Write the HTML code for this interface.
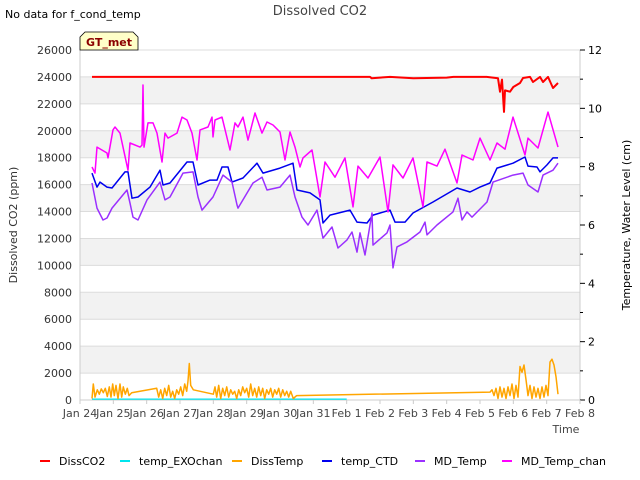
<!DOCTYPE html>
<html><head><meta charset="utf-8"><style>
body{margin:0;background:#fff;}
svg{display:block;font-family:"DejaVu Sans","Liberation Sans",sans-serif;}
</style></head><body>
<svg id="chart" width="640" height="480" viewBox="0 0 640 480" xmlns="http://www.w3.org/2000/svg">
<text x="5" y="18" font-size="11" fill="#000">No data for f_cond_temp</text>
<text x="320" y="15" font-size="13" fill="#444" text-anchor="middle">Dissolved CO2</text>
<g id="bands"></g><g id="grid"></g>
<g id="axes"></g>
<g id="series"></g>
<g>
<path d="M80,50 L80,37 L85,32 L133,32 L138,37 L138,50 Z" fill="#ffffc8" stroke="#000" stroke-width="0.8"/>
<text x="109" y="46" font-size="11" font-weight="bold" fill="#8b0000" text-anchor="middle">GT_met</text>
</g>
<text transform="translate(17,225) rotate(-90)" font-size="11" fill="#333" text-anchor="middle">Dissolved CO2 (ppm)</text>
<text transform="translate(630,225) rotate(-90)" font-size="11" fill="#000" text-anchor="middle">Temperature, Water Level (cm)</text>
<text x="566" y="433" font-size="11" fill="#444" text-anchor="middle">Time</text>
<g id="legend"></g>
</svg>
<script>
const NS="http://www.w3.org/2000/svg";
const xTicks=["Jan 24","Jan 25","Jan 26","Jan 27","Jan 28","Jan 29","Jan 30","Jan 31","Feb 1","Feb 2","Feb 3","Feb 4","Feb 5","Feb 6","Feb 7","Feb 8"];
const yTicks=[0,2000,4000,6000,8000,10000,12000,14000,16000,18000,20000,22000,24000,26000];
const y2Ticks=[0,2,4,6,8,10,12];
const co2Days=[0.36,8.7,8.75,9.0,9.3,10.0,11.0,11.2,12.2,12.54,12.6,12.66,12.72,12.75,12.9,13.0,13.2,13.29,13.5,13.59,13.8,13.89,14.04,14.19,14.34];
const co2Vals=[24000,24000,23900,23950,24000,23900,23950,24000,24000,23900,22900,23800,21400,23000,22900,23250,23550,23920,24000,23620,24000,23620,24000,23180,23550];
const exoDays=[0.36,8.0];
const exoVals=[0.03,0.03];
const dtDays=[0.36,0.40,0.45,0.52,0.58,0.64,0.70,0.76,0.82,0.88,0.93,0.98,1.03,1.08,1.14,1.20,1.25,1.30,1.36,1.42,1.47,1.55,2.30,2.36,2.42,2.48,2.54,2.60,2.66,2.72,2.78,2.84,2.90,2.96,3.02,3.08,3.14,3.20,3.24,3.28,3.32,3.40,4.00,4.05,4.10,4.16,4.22,4.28,4.34,4.40,4.46,4.52,4.58,4.64,4.70,4.76,4.82,4.88,4.94,5.00,5.06,5.12,5.18,5.24,5.30,5.36,5.42,5.48,5.54,5.60,5.66,5.72,5.78,5.84,5.90,5.96,6.02,6.08,6.14,6.20,6.26,6.32,6.40,6.50,12.30,12.36,12.42,12.48,12.54,12.60,12.66,12.72,12.78,12.84,12.90,12.96,13.02,13.08,13.14,13.20,13.26,13.32,13.38,13.44,13.50,13.56,13.62,13.68,13.74,13.80,13.86,13.92,13.98,14.04,14.10,14.16,14.22,14.28,14.34];
const dtVals=[0.05,0.55,0.10,0.35,0.20,0.38,0.25,0.40,0.12,0.45,0.10,0.55,0.15,0.50,0.05,0.55,0.10,0.45,0.20,0.40,0.15,0.25,0.40,0.10,0.35,0.05,0.40,0.15,0.50,0.10,0.30,0.05,0.35,0.20,0.45,0.15,0.55,0.30,0.65,1.25,0.50,0.35,0.20,0.45,0.10,0.50,0.05,0.40,0.15,0.45,0.10,0.35,0.20,0.30,0.05,0.35,0.15,0.45,0.25,0.40,0.10,0.55,0.15,0.40,0.10,0.45,0.15,0.40,0.05,0.35,0.20,0.40,0.10,0.35,0.20,0.40,0.10,0.35,0.15,0.30,0.10,0.30,0.05,0.15,0.27,0.35,0.15,0.40,0.05,0.45,0.10,0.40,0.05,0.45,0.15,0.55,0.05,0.50,0.10,1.15,0.95,1.20,0.70,0.15,0.50,0.05,0.45,0.10,0.40,0.05,0.45,0.10,0.50,0.15,1.30,1.40,1.20,0.80,0.20];
const ctdDays=[0.36,0.51,0.60,0.81,0.96,1.35,1.44,1.56,1.74,2.10,2.40,2.49,2.70,3.21,3.39,3.54,3.90,4.11,4.26,4.44,4.56,4.89,5.31,5.49,6.00,6.39,6.51,6.90,7.20,7.29,7.50,8.10,8.31,8.61,8.79,9.30,9.45,9.75,9.99,10.59,11.31,11.70,12.00,12.30,12.51,12.99,13.35,13.44,13.71,13.80,14.01,14.19,14.34];
const ctdVals=[7.78,7.30,7.47,7.30,7.27,7.82,7.82,6.92,6.96,7.30,7.88,7.37,7.44,8.16,8.16,7.37,7.54,7.54,7.99,7.99,7.47,7.61,8.12,7.78,7.95,8.12,7.20,7.10,6.86,6.07,6.34,6.51,6.10,6.07,6.34,6.51,6.10,6.10,6.41,6.79,7.27,7.13,7.30,7.44,7.95,8.12,8.33,8.02,7.99,7.82,8.06,8.30,8.30];
const mdDays=[0.36,0.51,0.69,0.81,0.96,1.41,1.50,1.59,1.74,2.01,2.40,2.55,2.70,3.09,3.39,3.54,3.66,3.99,4.29,4.56,4.71,4.74,5.19,5.46,5.61,6.00,6.30,6.45,6.66,6.84,7.11,7.29,7.56,7.74,8.01,8.16,8.31,8.40,8.55,8.76,8.79,9.21,9.30,9.39,9.51,9.81,10.20,10.35,10.41,10.71,11.19,11.34,11.46,11.61,11.76,12.21,12.39,12.99,13.29,13.44,13.74,13.89,14.19,14.34];
const mdVals=[7.44,6.58,6.17,6.24,6.58,7.20,6.75,6.27,6.17,6.86,7.47,6.86,6.96,7.78,7.82,6.96,6.51,6.96,7.71,7.47,6.69,6.58,7.44,7.64,7.20,7.30,7.71,6.96,6.27,6.00,6.51,5.55,5.93,5.21,5.49,5.76,5.07,5.73,4.97,6.41,5.31,5.73,6.00,4.53,5.25,5.42,5.76,6.10,5.66,6.00,6.45,6.92,6.17,6.45,6.27,6.79,7.47,7.71,7.78,7.37,7.13,7.71,7.88,8.12];
const chanDays=[0.36,0.45,0.51,0.81,0.84,0.99,1.05,1.20,1.44,1.50,1.80,1.86,1.89,1.92,2.04,2.19,2.31,2.46,2.55,2.64,2.91,3.06,3.21,3.36,3.51,3.60,3.84,3.96,3.99,4.05,4.26,4.50,4.65,4.74,4.89,5.04,5.25,5.46,5.61,5.79,6.00,6.15,6.30,6.45,6.60,6.69,6.96,7.20,7.35,7.65,7.95,8.19,8.34,8.64,9.00,9.24,9.39,9.69,9.99,10.29,10.41,10.71,10.95,11.31,11.46,11.79,12.00,12.30,12.51,12.75,12.99,13.35,13.44,13.74,14.04,14.34];
const chanVals=[7.99,7.78,8.67,8.47,8.30,9.26,9.36,9.15,7.88,8.81,8.67,8.74,10.80,8.67,9.50,9.50,9.15,8.16,9.15,8.98,9.15,9.70,9.60,9.15,8.23,9.26,9.36,9.70,9.02,9.60,9.70,8.57,9.50,9.36,9.70,8.91,9.84,9.15,9.53,9.43,9.19,8.23,9.19,8.67,7.99,8.30,8.57,6.96,8.16,7.64,8.30,6.62,8.02,7.61,8.33,6.45,8.06,7.61,8.30,6.62,8.16,8.02,8.60,7.44,8.40,8.23,8.98,8.23,8.81,8.60,9.70,8.40,8.98,8.64,9.87,8.67];

const L=80,R=580,T=50,B=400;
const xs=d=>L+(R-L)*d/15;
const ys=v=>B-(B-T)*v/26000;
const ys2=v=>B-(B-T)*v/12;
function mk(tag,attrs,parent){const e=document.createElementNS(NS,tag);for(const k in attrs)e.setAttribute(k,attrs[k]);parent.appendChild(e);return e;}
const bands=document.getElementById('bands'),grid=document.getElementById('grid'),axes=document.getElementById('axes'),series=document.getElementById('series'),legend=document.getElementById('legend');
for(let v=2000;v<26000;v+=4000){const r=mk('rect',{x:L,y:ys(v+2000),width:R-L,height:ys(v)-ys(v+2000),fill:'#f2f2f2'},bands);

}
yTicks.forEach(v=>{const g=mk('line',{x1:L,x2:R,y1:ys(v),y2:ys(v),stroke:'#dcdcdc','stroke-width':1},grid);


const t=mk('text',{x:L-8,y:ys(v)+4,'font-size':11,fill:'#333','text-anchor':'end'},axes);t.textContent=v;

});
mk('line',{x1:L,x2:L,y1:T,y2:B,stroke:'#ccc'},axes);
mk('line',{x1:R,x2:R,y1:T,y2:B,stroke:'#ccc'},axes);
mk('line',{x1:L,x2:R,y1:B,y2:B,stroke:'#ccc'},axes);
y2Ticks.forEach(v=>{mk('line',{x1:R,x2:R+5,y1:ys2(v),y2:ys2(v),stroke:'#000'},axes);
const t=mk('text',{x:R+8,y:ys2(v)+4,'font-size':11,fill:'#000'},axes);t.textContent=v;

});
for(let v=1;v<12;v+=2)mk('line',{x1:R,x2:R+3,y1:ys2(v),y2:ys2(v),stroke:'#000'},axes);
xTicks.forEach((s,i)=>{mk('line',{x1:xs(i),x2:xs(i),y1:B,y2:B+4,stroke:'#ccc'},axes);
const t=mk('text',{x:xs(i),y:B+17,'font-size':11,fill:'#444','text-anchor':'middle'},axes);t.textContent=s;

});
function line(days,vals,sc,color,name,w){const d=days.map((x,i)=>(i?'L':'M')+xs(x).toFixed(1)+','+sc(vals[i]).toFixed(1)).join(' ');
const p=mk('path',{d:d,fill:'none',stroke:color,'stroke-width':w||1.5,'stroke-linejoin':'round'},series);

}
line(exoDays,exoVals,ys2,'#00e5ee','series-temp-exochan',1.2);
line(dtDays,dtVals,ys2,'#ffa500','series-disstemp',1.5);
line(ctdDays,ctdVals,ys2,'#0000ee','series-temp-ctd',1.5);
line(mdDays,mdVals,ys2,'#9b30ff','series-md-temp',1.5);
line(chanDays,chanVals,ys2,'#ff00ff','series-md-temp-chan',1.5);
line(co2Days,co2Vals,ys,'#ff0000','series-dissco2',2);
const leg=[['DissCO2','#ff0000',40],['temp_EXOchan','#00e5ee',120],['DissTemp','#ffa500',232],['temp_CTD','#0000ee',322],['MD_Temp','#9b30ff',415],['MD_Temp_chan','#ff00ff',502]];
leg.forEach(([n,c,x])=>{const g=mk('g',{},legend);


mk('line',{x1:x,x2:x+10,y1:461,y2:461,stroke:c,'stroke-width':2},g);
const t=mk('text',{x:x+19,y:465,'font-size':11,fill:'#000'},g);t.textContent=n;});
</script>
</body></html>
